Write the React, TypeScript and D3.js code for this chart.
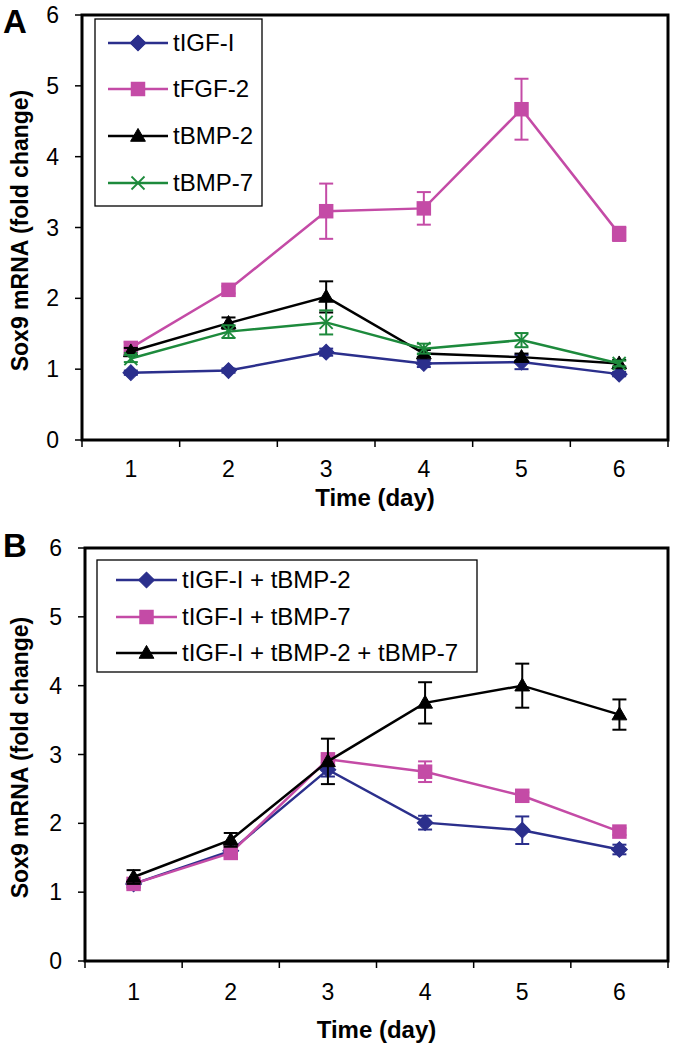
import React from "react";
import * as d3 from "d3";

const days = ["1", "2", "3", "4", "5", "6"];
const yTicks = [0, 1, 2, 3, 4, 5, 6];

// Panel A
const seriesNamesA = ["tIGF-I", "tFGF-2", "tBMP-2", "tBMP-7"];
const igfA = [0.95, 0.98, 1.24, 1.08, 1.1, 0.93];
const igfAErr = [0.03, 0.03, 0.05, 0.05, 0.1, 0.03];
const fgfA = [1.3, 2.12, 3.23, 3.27, 4.67, 2.91];
const fgfAErr = [0.08, 0.05, 0.39, 0.23, 0.43, 0.1];
const bmp2A = [1.25, 1.65, 2.02, 1.22, 1.17, 1.08];
const bmp2AErr = [0.05, 0.08, 0.22, 0.05, 0.05, 0.05];
const bmp7A = [1.15, 1.53, 1.66, 1.29, 1.41, 1.08];
const bmp7AErr = [0.05, 0.09, 0.17, 0.07, 0.1, 0.04];

// Panel B
const seriesNamesB = ["tIGF-I + tBMP-2", "tIGF-I + tBMP-7", "tIGF-I + tBMP-2 + tBMP-7"];
const igfBmp2B = [1.12, 1.6, 2.78, 2.01, 1.9, 1.62];
const igfBmp2BErr = [0.05, 0.05, 0.1, 0.1, 0.2, 0.07];
const igfBmp7B = [1.12, 1.57, 2.93, 2.75, 2.4, 1.88];
const igfBmp7BErr = [0.05, 0.05, 0.05, 0.15, 0.05, 0.05];
const tripleB = [1.22, 1.76, 2.9, 3.75, 4.0, 3.58];
const tripleBErr = [0.1, 0.1, 0.33, 0.3, 0.32, 0.22];

const BLUE = "#2b2f8c";
const MAGENTA = "#c44ba6";
const BLACK = "#000000";
const GREEN = "#1d8a3c";
const FONT = "'Liberation Sans', Arial, Helvetica, sans-serif";

type Series = { name: string; values: number[]; errs: number[]; color: string; marker: string };

function Marker({ type, x, y, color }: { type: string; x: number; y: number; color: string }) {
  if (type === "diamond") {
    const p = d3.symbol(d3.symbolSquare, 125)();
    return <path d={p || ""} transform={`translate(${x},${y}) rotate(45)`} fill={color} stroke={color} strokeWidth={1} />;
  }
  if (type === "square") {
    const p = d3.symbol(d3.symbolSquare, 210)();
    return <path d={p || ""} transform={`translate(${x},${y})`} fill={color} />;
  }
  if (type === "triangle") {
    const p = d3.symbol(d3.symbolTriangle, 95)();
    return <path d={p || ""} transform={`translate(${x},${y + 1})`} fill={color} stroke={color} strokeWidth={1} />;
  }
  const s = 6.5;
  return (
    <g stroke={color} strokeWidth={1.8}>
      <line x1={x - s} y1={y - s} x2={x + s} y2={y + s} />
      <line x1={x - s} y1={y + s} x2={x + s} y2={y - s} />
    </g>
  );
}

function Panel({
  letter, letterY, top, left, right, bottom, series, legend, labelDy, titleDy,
}: {
  letter: string; letterY: number; top: number; left: number; right: number; bottom: number; series: Series[];
  labelDy: number; titleDy: number;
  legend: { x: number; y: number; w: number; h: number; rows: number[]; lineX1: number; lineX2: number; textX: number };
}) {
  const x = d3.scaleBand<string>().domain(days).range([left, right]);
  const y = d3.scaleLinear().domain([0, 6]).range([bottom, top]);
  const cx = (d: string) => (x(d) as number) + x.bandwidth() / 2;
  const line = d3.line<number>().x((_, i) => cx(days[i])).y((v) => y(v));
  const tickXs = days.map((d) => x(d) as number).concat([right]);
  const cap = 7;
  return (
    <g fontFamily={FONT}>
      <text x={3} y={letterY} fontSize={33} fontWeight="bold">{letter}</text>
      {yTicks.map((t) => (
        <g key={t}>
          <line x1={left - 7} x2={left} y1={y(t)} y2={y(t)} stroke="#000" strokeWidth={1.5} />
          <text x={left - 23} y={y(t) + 8} fontSize={23} textAnchor="end">{t}</text>
        </g>
      ))}
      {tickXs.map((tx, i) => (
        <line key={i} x1={tx} x2={tx} y1={bottom} y2={bottom + 7} stroke="#000" strokeWidth={1.5} />
      ))}
      {days.map((d) => (
        <text key={d} x={cx(d)} y={bottom + labelDy} fontSize={23} textAnchor="middle">{d}</text>
      ))}
      <text x={(left + right) / 2} y={bottom + titleDy} fontSize={24} fontWeight="bold" textAnchor="middle">Time (day)</text>
      <text
        transform={`translate(${28},${(top + bottom) / 2 + 3}) rotate(-90)`}
        fontSize={23} fontWeight="bold" textAnchor="middle"
      >Sox9 mRNA (fold change)</text>
      <rect x={legend.x} y={legend.y} width={legend.w} height={legend.h} fill="#fff" stroke="#000" strokeWidth={1.3} />
      {series.map((s, i) => (
        <g key={s.name}>
          <line x1={legend.lineX1} x2={legend.lineX2} y1={legend.rows[i]} y2={legend.rows[i]} stroke={s.color} strokeWidth={2.5} />
          <Marker type={s.marker} x={(legend.lineX1 + legend.lineX2) / 2} y={legend.rows[i]} color={s.color} />
          <text x={legend.textX} y={legend.rows[i] + 8} fontSize={24}>{s.name}</text>
        </g>
      ))}
      {series.map((s) => (
        <g key={s.name}>
          <path d={line(s.values) || ""} fill="none" stroke={s.color} strokeWidth={2.5} />
          {s.values.map((v, i) => {
            const px = cx(days[i]);
            const e = s.errs[i];
            return (
              <g key={i} stroke={s.color} strokeWidth={2}>
                <line x1={px} x2={px} y1={y(v + e)} y2={y(v - e)} />
                <line x1={px - cap} x2={px + cap} y1={y(v + e)} y2={y(v + e)} />
                <line x1={px - cap} x2={px + cap} y1={y(v - e)} y2={y(v - e)} />
              </g>
            );
          })}
          {s.values.map((v, i) => (
            <Marker key={"m" + i} type={s.marker} x={cx(days[i])} y={y(v)} color={s.color} />
          ))}
        </g>
      ))}
      <rect x={left} y={top} width={right - left} height={bottom - top} fill="none" stroke="#000" strokeWidth={3} />
    </g>
  );
}

export default function App() {
  const seriesA: Series[] = [
    { name: seriesNamesA[0], values: igfA, errs: igfAErr, color: BLUE, marker: "diamond" },
    { name: seriesNamesA[1], values: fgfA, errs: fgfAErr, color: MAGENTA, marker: "square" },
    { name: seriesNamesA[2], values: bmp2A, errs: bmp2AErr, color: BLACK, marker: "triangle" },
    { name: seriesNamesA[3], values: bmp7A, errs: bmp7AErr, color: GREEN, marker: "x" },
  ];
  const seriesB: Series[] = [
    { name: seriesNamesB[0], values: igfBmp2B, errs: igfBmp2BErr, color: BLUE, marker: "diamond" },
    { name: seriesNamesB[1], values: igfBmp7B, errs: igfBmp7BErr, color: MAGENTA, marker: "square" },
    { name: seriesNamesB[2], values: tripleB, errs: tripleBErr, color: BLACK, marker: "triangle" },
  ];
  return (
    <svg width={674} height={1050} style={{ position: "absolute", left: 0, top: 0, background: "#fff" }}>
      <rect x={0} y={0} width={674} height={1050} fill="#fff" />
      <Panel
        letter="A" letterY={33} top={15} left={82} right={668} bottom={440} series={seriesA}
        labelDy={37} titleDy={66}
        legend={{ x: 95, y: 19, w: 167, h: 187, rows: [43, 89, 136, 183], lineX1: 108, lineX2: 168, textX: 173 }}
      />
      <Panel
        letter="B" letterY={557} top={548} left={85} right={668} bottom={961} series={seriesB}
        labelDy={39} titleDy={77}
        legend={{ x: 97, y: 560, w: 380, h: 112, rows: [580, 617, 653], lineX1: 116, lineX2: 177, textX: 182 }}
      />
    </svg>
  );
}
